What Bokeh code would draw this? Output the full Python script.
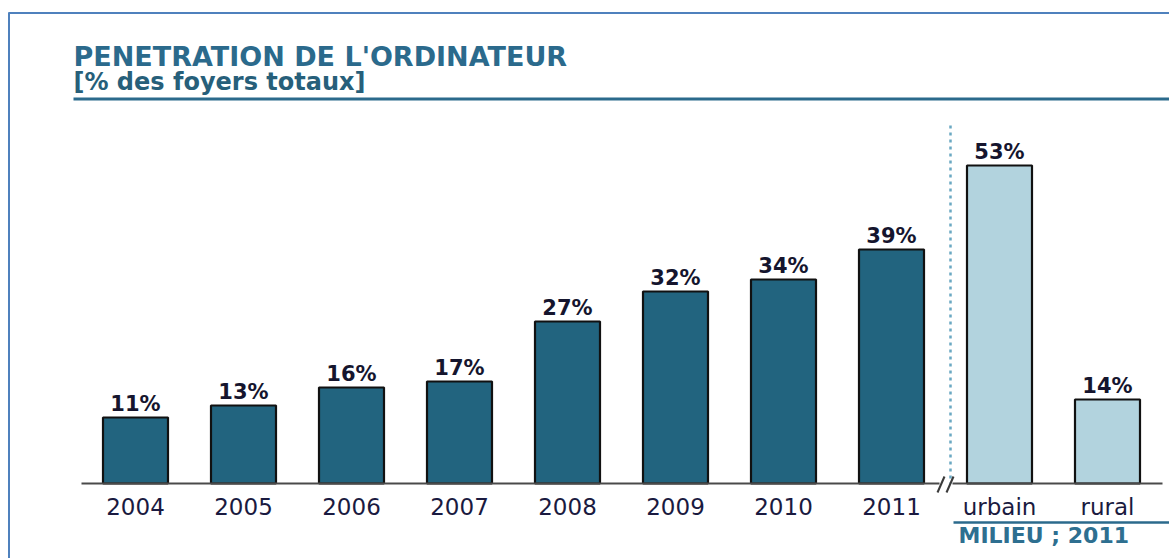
from bokeh.plotting import figure
from bokeh.models import ColumnDataSource, Range1d
from bokeh.core.properties import value
from bokeh.embed import file_html
from bokeh.resources import INLINE

# ---------------- data ----------------
years = ["2004", "2005", "2006", "2007", "2008", "2009", "2010", "2011"]
year_values = [11, 13, 16, 17, 27, 32, 34, 39]
milieu = ["urbain", "rural"]
milieu_values = [53, 14]
title = "PENETRATION DE L'ORDINATEUR"
subtitle = "[% des foyers totaux]"
group_label = "MILIEU ; 2011"

# ---------------- layout helpers ----------------
W, H = 1169, 558
X0, SX = 135.0, 108.0   # pixel centre of first bar, pixels per category step
BY, SY = 483.0, 6.0     # pixel baseline, pixels per percent


def dx(px):
    return (px - X0) / SX


def dy(py):
    return (BY - py) / SY


p = figure(width=W, height=H, output_backend="svg", toolbar_location=None,
           x_range=Range1d(dx(0), dx(W)), y_range=Range1d(dy(H), dy(0)),
           x_axis_type=None, y_axis_type=None, min_border=0)
p.grid.visible = False
p.outline_line_color = None
p.background_fill_color = "white"
p.border_fill_color = "white"

DARK = "#22647f"
LIGHT = "#b2d3de"
FONT = value("DejaVu Sans")

labels = years + milieu
vals = year_values + milieu_values
xs = list(range(len(labels)))
src = ColumnDataSource(dict(
    x=xs, v=vals, lab=labels,
    pct=[f"{v}%" for v in vals],
    color=[DARK] * len(years) + [LIGHT] * len(milieu),
))

# frame (partial border of the original slide)
p.line([dx(8.5), dx(8.5)], [dy(12), dy(H)], line_color="#4f81bd", line_width=2)
p.line([dx(8), dx(W)], [dy(12.5), dy(12.5)], line_color="#4f81bd", line_width=2)

# bars
p.vbar(x="x", top="v", bottom=0, width=65 / SX, source=src,
       fill_color="color", line_color="#111111", line_width=2.2)

# dashed separator
p.line([dx(950), dx(950)], [dy(125), 0], line_color="#6aa8c2",
       line_width=2.5, line_dash="3 4")

# baseline axis with break
p.line([dx(81), dx(939)], [0, 0], line_color="#4a4a4a", line_width=2)
p.line([dx(952), dx(1162)], [0, 0], line_color="#4a4a4a", line_width=2)
p.segment(x0=[dx(937), dx(946)], y0=[dy(492), dy(492)],
          x1=[dx(944), dx(953)], y1=[dy(476), dy(476)],
          line_color="#3a3a3a", line_width=2)

# value labels
p.text(x="x", y="v", text="pct", source=src, text_align="center",
       text_baseline="middle", y_offset=-14, text_font=FONT,
       text_font_style="bold", text_font_size="21px", text_color="#15152e")

# category labels
p.text(x="x", y=dy(506), text="lab", source=src, text_align="center",
       text_baseline="middle", text_font=FONT,
       text_font_size="23px", text_color="#1a1a40")

# title + subtitle
p.text(x=[dx(73)], y=[dy(56)], text=[title], text_font=FONT,
       text_font_style="bold", text_font_size="27px", text_color="#2b6a8c",
       text_baseline="middle")
p.text(x=[dx(73)], y=[dy(81)], text=[subtitle], text_font=FONT,
       text_font_style="bold", text_font_size="24px", text_color="#275f7a",
       text_baseline="middle")
p.line([dx(73), dx(W)], [dy(98.5), dy(98.5)], line_color="#2b6a8c", line_width=3)

# group label
p.line([dx(953), dx(W)], [dy(522), dy(522)], line_color="#2b6a8c", line_width=2.5)
p.text(x=[dx(958)], y=[dy(535)], text=[group_label], text_font=FONT,
       text_font_style="bold", text_font_size="22px", text_color="#2e6f90",
       text_baseline="middle")

open("out.html", "w").write(file_html(p, INLINE))
